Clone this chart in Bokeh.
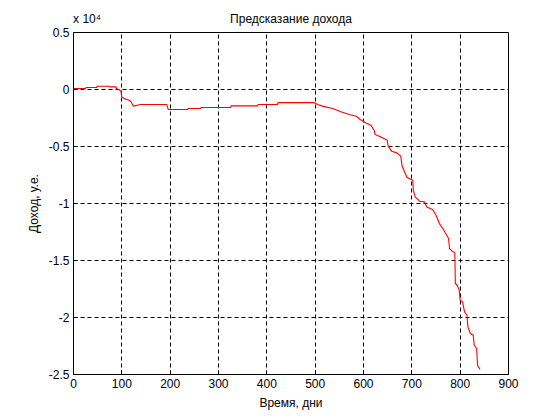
from bokeh.plotting import figure
from bokeh.models import Range1d, FixedTicker, LinearAxis
from bokeh.embed import file_html
from bokeh.resources import INLINE

# Data (time in days, income in conventional units)
days = [0, 25, 26, 48, 49, 74, 75, 88, 89, 98,
        100, 105, 112, 118, 124, 139, 193, 196, 236, 237,
        263, 264, 325, 326, 381, 382, 422, 423, 497, 505,
        515, 536, 553, 574, 585, 593, 605, 615, 622, 624,
        636, 649, 651, 658, 669, 677, 680, 685, 690, 702,
        703, 707, 716, 726, 731, 743, 750, 757, 764, 770,
        776, 778, 785, 789, 790, 794, 798, 800, 805, 809,
        814, 816, 821, 827, 829, 834, 836, 841]
income = [90, 90, 175, 175, 290, 290, 230, 230, 90, -120,
          -650, -800, -900, -1000, -1460, -1320, -1320, -1750, -1750, -1670,
          -1670, -1580, -1580, -1440, -1440, -1320, -1320, -1150, -1140, -1320,
          -1460, -1670, -1960, -2230, -2340, -2630, -2930, -3130, -3570, -3950,
          -4160, -4450, -4970, -5410, -5560, -5850, -6730, -7230, -7720, -7960,
          -8830, -9420, -9800, -9860, -10300, -10530, -11030, -11760, -12190, -12630,
          -13070, -13950, -14240, -14330, -17020, -17170, -17600, -18480, -18630, -19510,
          -19800, -20820, -21400, -21550, -22430, -22720, -24180, -24560]

x_ticks = [0, 100, 200, 300, 400, 500, 600, 700, 800, 900]
y_ticks = [5000, 0, -5000, -10000, -15000, -20000, -25000]
y_tick_labels = ["0.5", "0", "-0.5", "-1", "-1.5", "-2", "-2.5"]

title_text = "Предсказание дохода"
x_label = "Время, дни"
y_label = "Доход, у.е."
multiplier_text = "x 10\u2074"

FONT = "Liberation Sans"

p = figure(width=560, height=420, output_backend="svg", toolbar_location=None,
           x_range=Range1d(0, 900), y_range=Range1d(-25000, 5000),
           min_border_left=73, min_border_right=52, min_border_top=32, min_border_bottom=46,
           title_location=None)

p.background_fill_color = "white"
p.border_fill_color = "white"
p.outline_line_color = "black"
p.outline_line_width = 1

p.xaxis.ticker = FixedTicker(ticks=x_ticks)
p.yaxis.ticker = FixedTicker(ticks=y_ticks)
p.yaxis.major_label_overrides = {t: s for t, s in zip(y_ticks, y_tick_labels)}

for ax in (p.xaxis[0], p.yaxis[0]):
    ax.axis_line_color = "black"
    ax.major_tick_in = 4
    ax.major_tick_out = 0
    ax.minor_tick_line_color = None
    ax.major_tick_line_color = "black"
    ax.major_label_text_font = FONT
    ax.major_label_text_font_size = "12px"
    ax.major_label_text_color = "black"
    ax.axis_label_text_font = FONT
    ax.axis_label_text_font_size = "12px"
    ax.axis_label_text_font_style = "normal"
    ax.axis_label_text_color = "black"
    ax.major_label_standoff = 4

p.xaxis.axis_label = x_label
p.yaxis.axis_label = y_label
p.xaxis.axis_label_standoff = 5
p.yaxis.axis_label_standoff = 5

# Top strip: "x 10^4" multiplier at the left and the chart title in the middle
title_pos = 450
mult_pos = 28
top_axis = LinearAxis(ticker=FixedTicker(ticks=[mult_pos, title_pos]),
                      major_label_overrides={mult_pos: multiplier_text, title_pos: title_text},
                      axis_line_color=None, major_tick_line_color=None,
                      minor_tick_line_color=None, major_tick_in=0, major_tick_out=0,
                      major_label_standoff=7, major_label_text_font=FONT,
                      major_label_text_font_size="12px", major_label_text_color="black")
p.add_layout(top_axis, "above")

p.xgrid.ticker = FixedTicker(ticks=x_ticks)
p.ygrid.ticker = FixedTicker(ticks=y_ticks)
for g in (p.xgrid[0], p.ygrid[0]):
    g.grid_line_color = "black"
    g.grid_line_alpha = 1.0
    g.grid_line_dash = "4 3"
    g.grid_line_width = 1

p.line(days, income, line_color="red", line_width=1.1)

open("out.html", "w").write(file_html(p, INLINE))
